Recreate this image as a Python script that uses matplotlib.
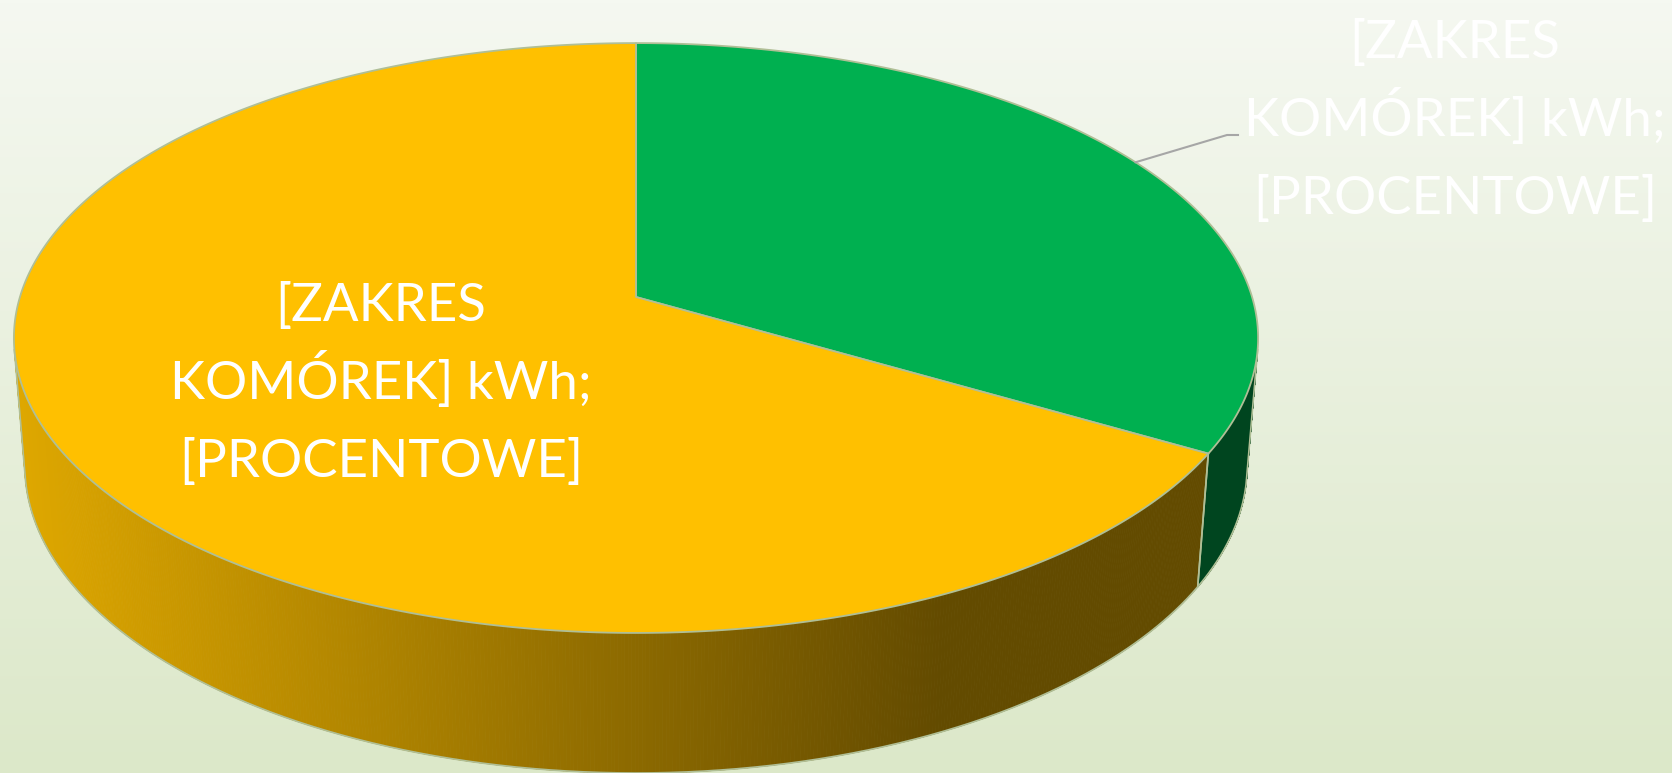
import numpy as np
import matplotlib.pyplot as plt
from matplotlib.collections import PolyCollection
from matplotlib.colors import to_rgb

# dane wykresu (kolejnosc jak w Excelu: od godz. 12 zgodnie z ruchem wskazowek)
slice_values = [33.4, 66.6]
slice_colors = ["#00B050", "#FFC000"]
slice_labels = ["[ZAKRES\nKOMÓREK] kWh;\n[PROCENTOWE]",
                "[ZAKRES\nKOMÓREK] kWh;\n[PROCENTOWE]"]

W, H = 1672, 773

# kamera (perspektywa 3D jak w Excelu)
cx, cy = 636, 297
elev = np.radians(28.0)
dist = 6.35
focal = 3912
thick = 0.237

edge = "#b0bf96"
label_first_baseline = [(1455, 58), (381, 321)]
line_step = 78
leader_knee = (1227, 135)
leader_end = (1238, 135)


def project(x, y, z):
    d = dist + y * np.cos(elev) - z * np.sin(elev)
    up = y * np.sin(elev) + z * np.cos(elev)
    return cx + focal * x / d, cy - focal * up / d


def shade(color, sx):
    f = 0.88 - 0.49 * np.clip(sx / 940, 0, 1)
    return tuple(np.array(to_rgb(color)) * f)


fig = plt.figure(figsize=(W / 100, H / 100), dpi=100)
ax = fig.add_axes([0, 0, 1, 1])
ax.set_xlim(0, W)
ax.set_ylim(H, 0)
ax.axis("off")

# tlo - gradient pionowy
g = np.linspace(0, 1, 256)[:, None, None]
c_top = np.array(to_rgb("#F5F8F1"))
c_bot = np.array(to_rgb("#DCE8C9"))
ax.imshow(c_top + (c_bot - c_top) * g, extent=[0, W, H, 0], aspect="auto", zorder=0)

fracs = np.array(slice_values) / np.sum(slice_values)
ends = np.pi / 2 - 2 * np.pi * np.cumsum(fracs)
starts = np.concatenate([[np.pi / 2], ends[:-1]])
alpha = np.arcsin(1 / (dist * np.cos(elev)))  # sylwetka boczna

# sciany boczne
for start, end, col in zip(starts, ends, slice_colors):
    hi = min(start, -alpha)
    lo = max(end, -np.pi + alpha)
    if lo >= hi:
        continue
    t = np.linspace(hi, lo, 500)
    xt, yt = project(np.cos(t), np.sin(t), 0)
    xb, yb = project(np.cos(t), np.sin(t), -thick)
    quads, cols = [], []
    for i in range(len(t) - 1):
        quads.append([(xt[i], yt[i]), (xt[i + 1], yt[i + 1]),
                      (xb[i + 1], yb[i + 1]), (xb[i], yb[i])])
        cols.append(shade(col, (xt[i] + xt[i + 1]) / 2))
    ax.add_collection(PolyCollection(quads, facecolors=cols, edgecolors=cols,
                                     linewidths=0.6, zorder=2))
    ax.plot(np.r_[xt[0], xb, xt[-1]], np.r_[yt[0], yb, yt[-1]],
            color=edge, lw=1.2, zorder=3)

# gorna powierzchnia
ox, oy = project(0, 0, 0)
for start, end, col in zip(starts, ends, slice_colors):
    t = np.linspace(start, end, 600)
    xs, ys = project(np.cos(t), np.sin(t), 0)
    ax.fill(np.r_[ox, xs], np.r_[oy, ys], facecolor=col, edgecolor=edge,
            lw=1.3, zorder=4, joinstyle="round")

# etykiety
for k, (lab, (lx, ly)) in enumerate(zip(slice_labels, label_first_baseline)):
    for j, line in enumerate(lab.split("\n")):
        ax.text(lx, ly + j * line_step, line, ha="center", va="baseline",
                color="white", fontsize=38, family="Lato", zorder=6)

# linia odniesienia dla zielonego wycinka
mid = (starts[0] + ends[0]) / 2
px, py = project(np.cos(mid), np.sin(mid), 0)
ax.plot([px, leader_knee[0], leader_end[0]], [py, leader_knee[1], leader_end[1]],
        color="#a6a6a6", lw=1.5, zorder=5)

plt.savefig("out.png", dpi=100)
